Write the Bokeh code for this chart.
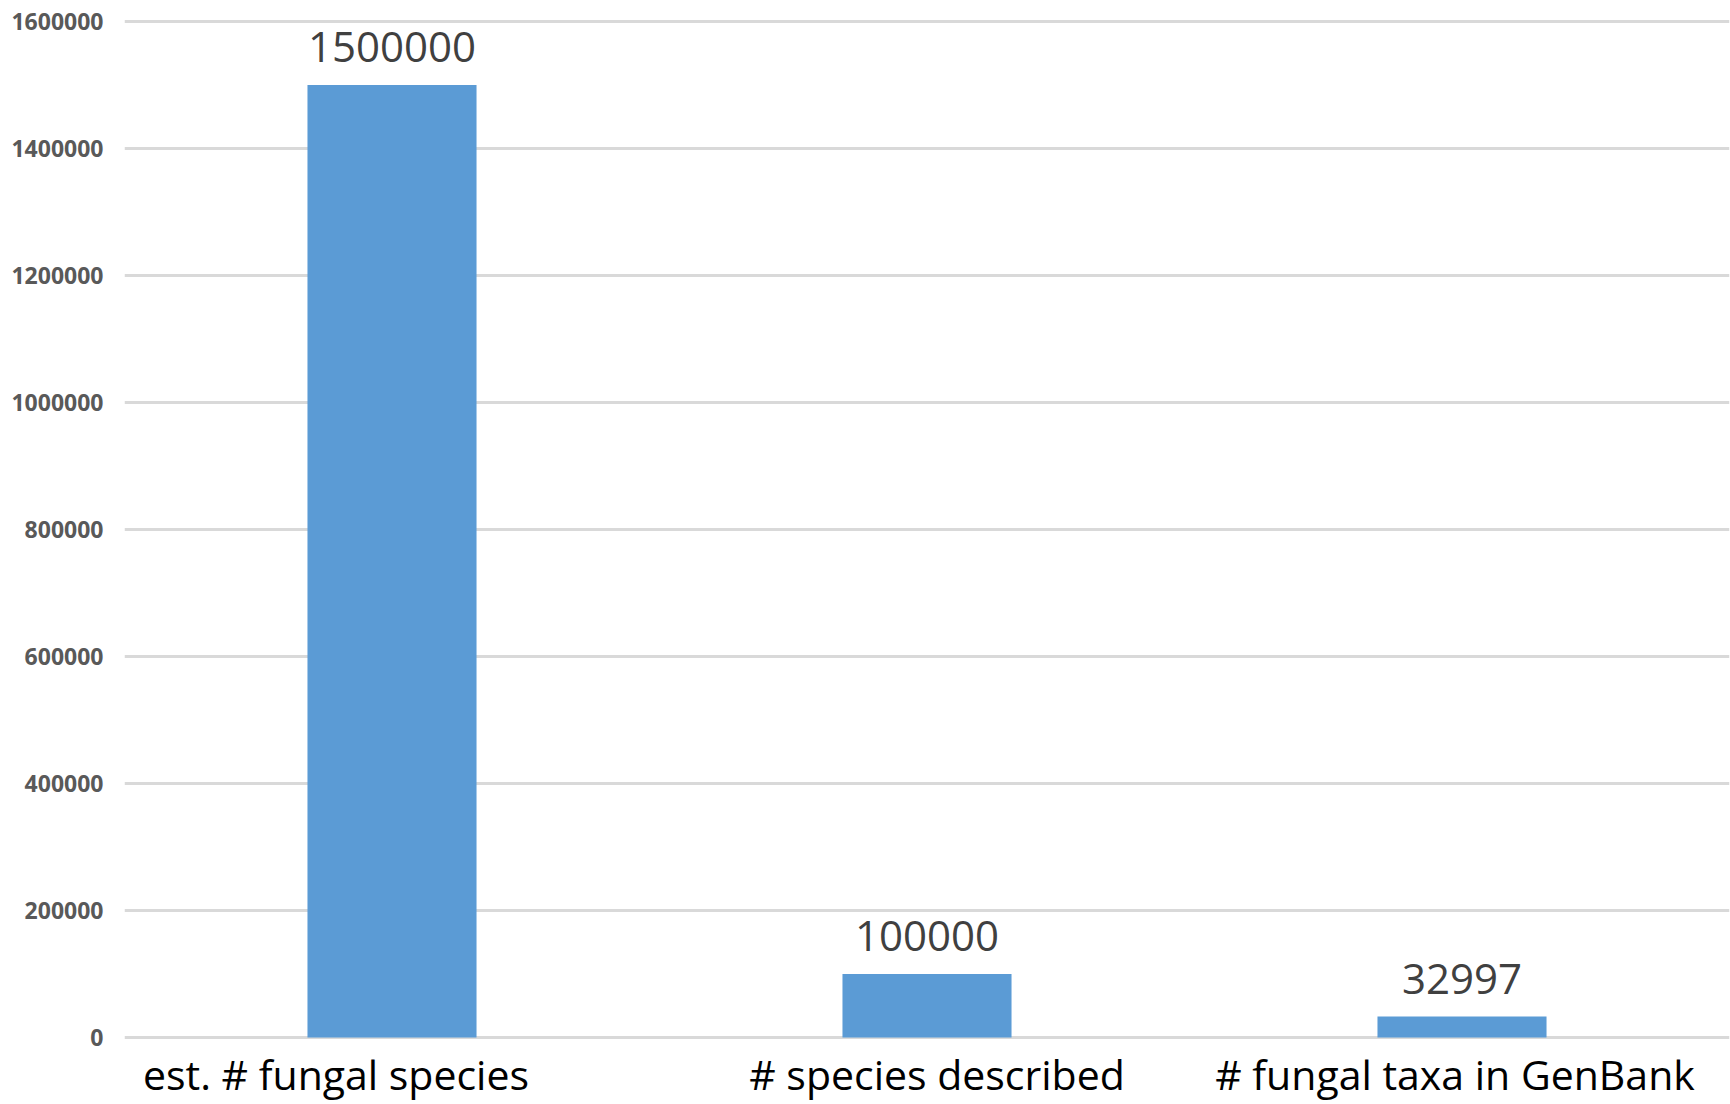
from bokeh.plotting import figure
from bokeh.models import ColumnDataSource, FactorRange, Range1d, FixedTicker, NumeralTickFormatter
from bokeh.core.properties import value
from bokeh.embed import file_html
from bokeh.resources import INLINE

# Data
categories = ["est. # fungal species", "# species described", "# fungal taxa in GenBank"]
counts = [1500000, 100000, 32997]
y_ticks = [0, 200000, 400000, 600000, 800000, 1000000, 1200000, 1400000, 1600000]

# small horizontal nudges of the category captions (pixels)
caption_nudge = [-56, 10, -7]

src = ColumnDataSource(dict(
    cat=categories,
    n=counts,
    lbl=[str(v) for v in counts],
    zero=[0] * len(categories),
    nudge=caption_nudge,
))

p = figure(
    width=1730, height=1104,
    x_range=FactorRange(factors=categories, range_padding=0),
    y_range=Range1d(-105512, 1620472),
    output_backend="svg", toolbar_location=None,
    min_border_left=124, min_border_right=1, min_border_top=8, min_border_bottom=0,
)
p.outline_line_color = None
p.background_fill_color = "white"

# bars
p.vbar(x="cat", top="n", bottom=0, width=0.316, source=src,
       fill_color="#5b9bd5", line_color=None)

# value labels above bars
p.text(x="cat", y="n", text="lbl", source=src,
       text_align="center", text_baseline="alphabetic", y_offset=-38,
       text_font=value("Open Sans"), text_font_size="42px", text_color="#404040")

# category captions below the baseline
p.text(x="cat", y="zero", text="cat", source=src,
       text_align="center", text_baseline="alphabetic", y_offset=37, x_offset="nudge",
       text_font=value("Open Sans"), text_font_size="41px", text_color="#000000")

# axes and grid
p.xaxis.visible = False
p.xgrid.visible = False
ticker = FixedTicker(ticks=y_ticks)
p.yaxis.ticker = ticker
p.ygrid.ticker = ticker
p.ygrid.grid_line_color = "#d9d9d9"
p.ygrid.grid_line_width = 3
p.yaxis.formatter = NumeralTickFormatter(format="0")
p.yaxis.axis_line_color = None
p.yaxis.major_tick_line_color = None
p.yaxis.minor_tick_line_color = None
p.yaxis.major_tick_out = 0
p.yaxis.major_tick_in = 0
p.yaxis.major_label_standoff = 21
p.yaxis.major_label_text_font = "Open Sans"
p.yaxis.major_label_text_font_style = "bold"
p.yaxis.major_label_text_font_size = "23px"
p.yaxis.major_label_text_color = "#595959"

open("out.html", "w").write(file_html(p, INLINE))
